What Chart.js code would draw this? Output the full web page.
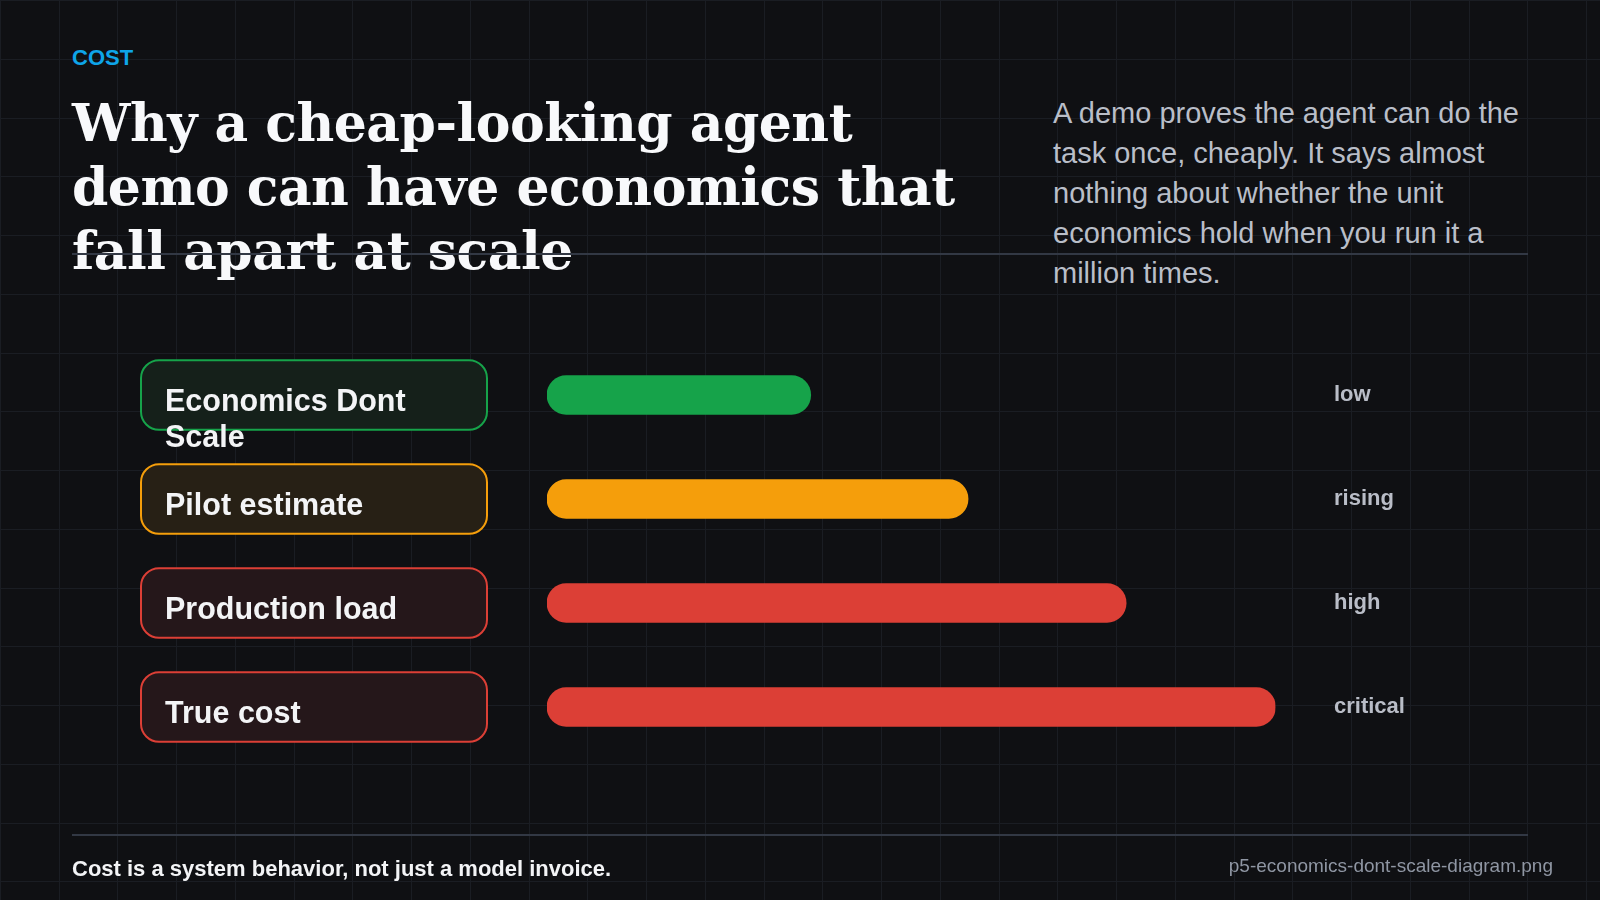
<!DOCTYPE html>
<html>
<head>
<meta charset="utf-8">
<script src="https://cdn.jsdelivr.net/npm/chart.js@4.4.1/dist/chart.umd.min.js"></script>
<style>
  html, body { margin: 0; padding: 0; }
  body {
    width: 1600px; height: 900px; overflow: hidden; position: relative;
    background-color: #0f1013;
    background-image:
      repeating-linear-gradient(to right, #1a1d23 0 1px, transparent 1px 58.75px),
      repeating-linear-gradient(to bottom, #1a1d23 0 1px, transparent 1px 58.75px);
    font-family: "Liberation Sans", Arial, sans-serif;
  }
  .kicker { position: absolute; left: 72px; top: 45px; color: #0ea5e9; font-weight: bold; font-size: 22px; }
  .title {
    position: absolute; left: 72px; top: 90.5px; margin: 0; white-space: nowrap;
    font-family: "DejaVu Serif", "Liberation Serif", serif; font-weight: bold;
    font-size: 52px; line-height: 64px; letter-spacing: -0.5px; color: #f8f9fb;
  }
  .lede {
    position: absolute; left: 1053px; top: 92.5px; margin: 0; white-space: nowrap;
    font-size: 29px; line-height: 40px; color: #b9bec8;
  }
  .rule { position: absolute; left: 72px; width: 1456px; height: 2px; background: #323844; }
  .foot { position: absolute; left: 72px; top: 856px; color: #f3f4f6; font-weight: bold; font-size: 22px; }
  .file { position: absolute; right: 47px; top: 855px; color: #8f96a3; font-size: 19px; }
  canvas { position: absolute; left: 0; top: 0; }
</style>
</head>
<body>
<div class="kicker">COST</div>
<h1 class="title">Why a cheap-looking agent<br>demo can have economics that<br>fall apart at scale</h1>
<p class="lede">A demo proves the agent can do the<br>task once, cheaply. It says almost<br>nothing about whether the unit<br>economics hold when you run it a<br>million times.</p>
<div class="rule" style="top:253px"></div>
<canvas id="chart" width="1600" height="900"></canvas>
<div class="rule" style="top:834px"></div>
<div class="foot">Cost is a system behavior, not just a model invoice.</div>
<div class="file">p5-economics-dont-scale-diagram.png</div>

<script>
// stages, relative cost (0-100) and the level tag shown on the right
const STAGES = ['Economics Dont Scale', 'Pilot estimate', 'Production load', 'True cost'];
const COST   = [36.2, 57.8, 79.5, 100];
const LEVELS = ['low', 'rising', 'high', 'critical'];

const BAR_COLORS  = ['#16a34a', '#f59e0b', '#dc3f36', '#dc3f36'];
const PILL_FILLS  = ['#15201a', '#272015', '#25171a', '#25171a'];

// label pills drawn next to each bar, placed on the y scale
const pillLabels = {
  id: 'pillLabels',
  beforeDatasetsDraw(chart) {
    const { ctx } = chart;
    const y = chart.scales.y;
    ctx.save();
    STAGES.forEach((name, i) => {
      const cy = y.getPixelForValue(i);
      const top = cy - 34.75;
      ctx.beginPath();
      ctx.roundRect(141, top, 346, 69.5, 18);
      ctx.fillStyle = PILL_FILLS[i];
      ctx.fill();
      ctx.lineWidth = 2;
      ctx.strokeStyle = BAR_COLORS[i];
      ctx.stroke();

      ctx.font = 'bold 30.5px "Liberation Sans", Arial, sans-serif';
      ctx.fillStyle = '#f3f4f6';
      ctx.textBaseline = 'alphabetic';
      ctx.textAlign = 'left';
      // wrap like a fixed-width box would
      const words = name.split(' ');
      const lines = [];
      let line = '';
      words.forEach(w => {
        const test = line ? line + ' ' + w : w;
        if (line && ctx.measureText(test).width > 298) { lines.push(line); line = w; }
        else line = test;
      });
      lines.push(line);
      lines.forEach((l, k) => ctx.fillText(l, 165, cy + 16 + k * 35.5));
    });
    ctx.restore();
  }
};

new Chart(document.getElementById('chart'), {
  type: 'bar',
  data: {
    labels: STAGES,
    datasets: [{
      data: COST,
      backgroundColor: BAR_COLORS,
      borderRadius: 30,
      borderSkipped: false,
      barThickness: 39,
    }]
  },
  options: {
    indexAxis: 'y',
    responsive: false,
    devicePixelRatio: 1,
    animation: false,
    layout: { padding: { left: 547, top: 343, bottom: 141, right: 0 } },
    plugins: { legend: { display: false }, tooltip: { enabled: false } },
    scales: {
      x: { type: 'linear', min: 0, max: 100, display: false },
      y: { display: false },
      y2: {
        type: 'category',
        labels: LEVELS,
        position: 'right',
        offset: true,
        grid: { display: false, drawTicks: false },
        border: { display: false },
        afterFit: s => { s.width = 324.5; },
        ticks: {
          padding: 58.5,
          color: '#b9bdc7',
          font: { family: '"Liberation Sans", Arial, sans-serif', size: 22, weight: 'bold' }
        }
      }
    }
  },
  plugins: [pillLabels]
});
</script>
</body>
</html>
